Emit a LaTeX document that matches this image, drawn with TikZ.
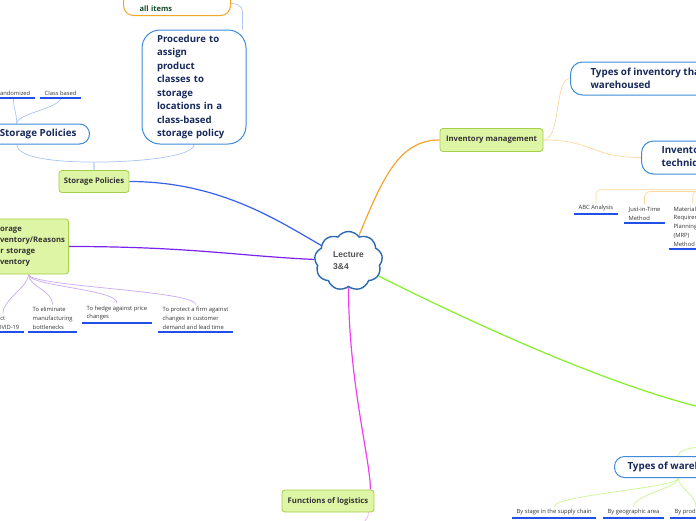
\documentclass[tikz,border=0pt]{standalone}
\usepackage{fontspec}
\setmainfont{Open Sans}
\newfontfamily\nubefont{Liberation Sans}
\usetikzlibrary{shapes.symbols,backgrounds}

% Colores del mapa
\definecolor{temaazul}{HTML}{3D8BD8}
\definecolor{temanavy}{HTML}{17295B}
\definecolor{verdefondo}{HTML}{DFF5A6}
\definecolor{verdeborde}{HTML}{A3CF4A}
\definecolor{textogris}{HTML}{333333}
\definecolor{hojaazul}{HTML}{2050E8}
\definecolor{nubeazul}{HTML}{2B6AAD}
\definecolor{nubetexto}{HTML}{505050}
\definecolor{naranja}{HTML}{F7A330}
\definecolor{naranjaclaro}{HTML}{FFD79E}
\definecolor{azul}{HTML}{3560F0}
\definecolor{azulclaro}{HTML}{A9C3F3}
\definecolor{morado}{HTML}{7A22EE}
\definecolor{moradoclaro}{HTML}{C9A8F4}
\definecolor{verde}{HTML}{84F026}
\definecolor{verdeclaro}{HTML}{C9F592}
\definecolor{magenta}{HTML}{F03EF0}
\definecolor{magentaclaro}{HTML}{F5A6F5}
\definecolor{cajanaranja}{HTML}{F5A623}
\definecolor{textoverde}{HTML}{164A2C}

\tikzset{
  temabox/.style={draw=temaazul, fill=white, line width=1pt, rounded corners=12pt,
    text=temanavy, align=left, font=\bfseries\fontsize{9.8}{13.5}\selectfont},
  verdebox/.style={draw=verdeborde, fill=verdefondo, line width=0.8pt, rounded corners=3pt,
    text=textogris, font=\bfseries\fontsize{7.7}{11}\selectfont, minimum height=22pt},
  hoja/.style={font=\fontsize{5.8}{8.8}\selectfont, text=textogris, align=left,
    inner xsep=4.5pt, inner ysep=2.5pt},
  subrayado/.style={draw=hojaazul, line width=1.8pt},
  rama/.style={line width=1.2pt},
  subrama/.style={line width=0.7pt},
}

\begin{document}
\begin{tikzpicture}[x=1pt, y=-1pt]
    % Marco de la imagen
    \useasboundingbox (0,0) rectangle (696,520);
    \clip (0,0) rectangle (696,520);

    % Nodo central
    \node[cloud, cloud puffs=9, cloud puff arc=110, aspect=1.2, draw=nubeazul, line width=1.4pt,
      fill=white, minimum width=68pt, minimum height=59pt, inner sep=2pt, align=left,
      text=nubetexto, font=\nubefont\bfseries\fontsize{8.5}{12}\selectfont] (lec) at (348.5,261) {Lecture\\3\&4};

    % Inventory management
    \node[verdebox, minimum width=103pt, minimum height=23pt] (invm) at (491.5,140) {Inventory management};
    \node[temabox, anchor=west, minimum height=33pt, inner xsep=20pt] (typinv) at (570,78.5) {Types of inventory that are\\warehoused};
    \node[temabox, anchor=west, minimum height=33pt, inner xsep=20pt] (tech) at (641,157.5) {Inventory management\\techniques};
    \node[hoja, anchor=south west] (abc) at (574,214) {ABC Analysis};
    \node[hoja, anchor=south west] (jit) at (624,223) {Just-in-Time\\Method};
    \node[hoja, anchor=south west] (mrp) at (669,249) {Material\\Requirements\\Planning\\(MRP)\\Method};

    % Storage Policies
    \node[verdebox, minimum width=70pt] (spg) at (94,181.5) {Storage Policies};
    \node[temabox, anchor=east, minimum height=20pt, inner xsep=13pt, rounded corners=10pt] (bigsp) at (90,134) {Types of Storage Policies};
    \node[hoja, anchor=south east] (rand) at (35,98) {Randomized};
    \node[hoja, anchor=south west] (clsb) at (40,98) {Class based};
    \node[temabox, minimum width=104pt, minimum height=114pt, rounded corners=18pt, text width=74pt,
      inner xsep=15pt, font=\bfseries\fontsize{9.6}{13.5}\selectfont] (proc) at (194,87)
      {Procedure to\\assign\\product\\classes to\\storage\\locations in a\\class-based\\storage policy};
    \node[draw=cajanaranja, fill=white, line width=1pt, rounded corners=10pt, anchor=south west,
      text width=75pt, inner xsep=16pt, inner ysep=2pt, text height=30pt, text depth=2pt, align=left,
      text=textoverde, font=\bfseries\fontsize{7.5}{11}\selectfont] (hdr) at (123,16) {all items};

    % Storage of inventory
    \node[verdebox, anchor=east, minimum height=55pt, text width=72pt, align=left, inner xsep=4pt] (stor) at (69,246.5)
      {Storage\\inventory/Reasons\\for storage\\inventory};
    \node[hoja, anchor=south east] (covid) at (24,332) {Impact\\of COVID-19};
    \node[hoja, anchor=south west] (elim) at (28,332) {To eliminate\\manufacturing\\bottlenecks};
    \node[hoja, anchor=south west] (hedge) at (82,323) {To hedge against price\\changes};
    \node[hoja, anchor=south west] (prot) at (158,332) {To protect a firm against\\changes in customer\\demand and lead time};

    % Functions of logistics
    \node[verdebox, minimum width=92pt] (func) at (328,501) {Functions of logistics};

    % Types of warehouses
    \node[temabox, anchor=west, minimum height=21pt, inner xsep=13pt, rounded corners=10pt] (whtype) at (614,467) {Types of warehouses};
    \node[hoja, anchor=south west] (stage) at (512,518) {By stage in the supply chain};
    \node[hoja, anchor=south west] (geo) at (603,518) {By geographic area};
    \node[hoja, anchor=south west] (prod) at (670,518) {By product type};

    % Extremos fuera de la imagen
    \coordinate (almacen) at (712,410);
    \coordinate (almacensub) at (720,446);
    \coordinate (logsub) at (361,528);

    % Subrayados de las hojas
    \foreach \hoja in {abc,jit,mrp,rand,clsb,covid,elim,hedge,prot,stage,geo,prod}
      \draw[subrayado] (\hoja.south west) -- (\hoja.south east);

    \begin{scope}[on background layer]
      % Ramas principales
      \draw[rama, naranja] (lec) .. controls +(35,-85) and +(-40,0) .. (invm.west);
      \draw[rama, azul] (spg.east) .. controls +(90,0) and +(-70,-40) .. (lec);
      \draw[rama, morado] (stor.east) .. controls +(120,0) and +(-110,-5) .. (lec);
      \draw[rama, verde] (lec) .. controls +(100,50) and +(-110,-25) .. (almacen);
      \draw[rama, magenta] (lec) .. controls +(0,120) and +(0,-30) .. ([xshift=-4pt]func.north east);

      % Inventory management
      \draw[subrama, naranjaclaro] (invm.east) .. controls +(18,0) and +(-16,0) .. (typinv.west);
      \draw[subrama, naranjaclaro] (invm.east) .. controls +(50,0) and +(-50,0) .. (tech.west);
      \foreach \hijo in {abc,jit,mrp}
        \draw[subrama, naranjaclaro, rounded corners=5pt] (tech.south) |- ([yshift=13pt]\hijo.north) -- (\hijo.north);

      % Storage Policies
      \draw[subrama, azulclaro] (spg.north) -- ++(0,-8) .. controls +(-45,0) and +(0,12) .. (bigsp.south);
      \draw[subrama, azulclaro] (spg.north) -- ++(0,-8) .. controls +(45,0) and +(0,12) .. (proc.south);
      \draw[subrama, azulclaro] (bigsp.north) .. controls +(0,-10) and +(0,10) .. (rand.south);
      \draw[subrama, azulclaro] (bigsp.north) .. controls +(0,-10) and +(0,10) .. (clsb.south);
      \draw[subrama, azulclaro] ([xshift=-4pt]proc.north east) -- ++(0,-18) .. controls +(0,-6) and +(5,0) .. ([yshift=-6pt]hdr.east);

      % Storage of inventory
      \foreach \hijo in {covid,elim,hedge,prot}
        \draw[subrama, moradoclaro] (stor.south) .. controls +(0,12) and +(0,-14) .. (\hijo.north);

      % Types of warehouses
      \foreach \hijo in {stage,geo,prod}
        \draw[subrama, verdeclaro] (whtype.south) .. controls +(0,10) and +(0,-12) .. (\hijo.north);
      \draw[subrama, verdeclaro] (whtype.north) .. controls +(0,-8) and +(-20,0) .. (almacensub);

      % Functions of logistics
      \draw[subrama, magentaclaro] ([xshift=-6pt]func.south east) .. controls +(0,8) and +(2,-8) .. (logsub);
    \end{scope}
\end{tikzpicture}
\end{document}
